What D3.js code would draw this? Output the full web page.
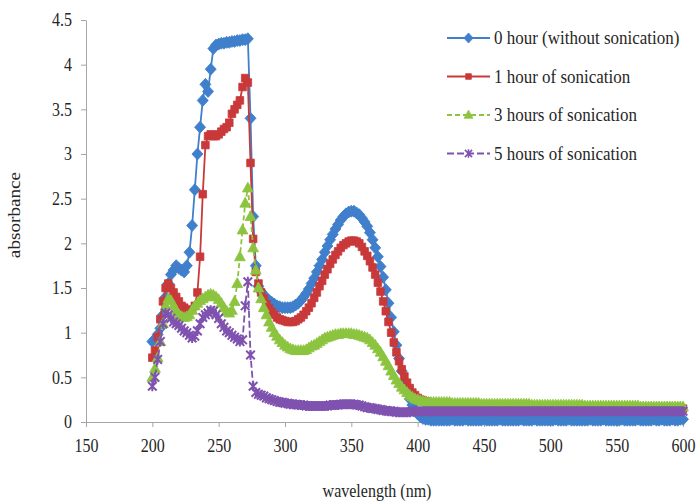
<!DOCTYPE html>
<html>
<head>
<meta charset="utf-8">
<script src="https://cdn.jsdelivr.net/npm/d3@7"></script>
<style>
  html, body { margin: 0; padding: 0; background: #fff; }
  text { font-family: "Liberation Serif", "Times New Roman", serif; fill: #262626; }
</style>
</head>
<body>
<svg id="chart" width="700" height="504"></svg>
<script>
// --- Data (2 nm steps) ---
const wavelengths = [
  200,202,204,206,208,210,212,214,216,218,
  220,222,224,226,228,230,232,234,236,238,
  240,242,244,246,248,250,252,254,256,258,
  260,262,264,266,268,270,272,274,276,278,
  280,282,284,286,288,290,292,294,296,298,
  300,302,304,306,308,310,312,314,316,318,
  320,322,324,326,328,330,332,334,336,338,
  340,342,344,346,348,350,352,354,356,358,
  360,362,364,366,368,370,372,374,376,378,
  380,382,384,386,388,390,392,394,396,398,
  400,402,404,406,408,410,412,414,416,418,
  420,422,424,426,428,430,432,434,436,438,
  440,442,444,446,448,450,452,454,456,458,
  460,462,464,466,468,470,472,474,476,478,
  480,482,484,486,488,490,492,494,496,498,
  500,502,504,506,508,510,512,514,516,518,
  520,522,524,526,528,530,532,534,536,538,
  540,542,544,546,548,550,552,554,556,558,
  560,562,564,566,568,570,572,574,576,578,
  580,582,584,586,588,590,592,594,596,598,
  600
];

// 0 hour (without sonication)
const hour0 = [
  0.90,0.93,0.98,1.05,1.20,1.40,1.55,1.65,1.70,1.75,
  1.72,1.70,1.68,1.75,1.90,2.20,2.60,3.00,3.30,3.60,
  3.78,3.70,3.95,4.18,4.22,4.23,4.24,4.24,4.25,4.25,
  4.26,4.26,4.27,4.27,4.28,4.28,4.29,3.40,2.30,1.75,
  1.52,1.46,1.42,1.39,1.36,1.34,1.32,1.30,1.29,1.28,
  1.28,1.28,1.28,1.29,1.31,1.33,1.36,1.40,1.44,1.49,
  1.55,1.61,1.68,1.75,1.82,1.90,1.97,2.04,2.10,2.16,
  2.21,2.26,2.30,2.33,2.35,2.36,2.36,2.34,2.32,2.28,
  2.24,2.19,2.12,2.04,1.95,1.85,1.74,1.62,1.48,1.33,
  1.17,1.01,0.86,0.71,0.57,0.45,0.35,0.26,0.19,0.13,
  0.09,0.06,0.04,0.03,0.03,0.02,0.02,0.02,0.02,0.02,
  0.02,0.02,0.02,0.03,0.02,0.02,0.02,0.02,0.03,0.02,
  0.02,0.02,0.02,0.02,0.02,0.03,0.02,0.02,0.02,0.02,
  0.02,0.03,0.02,0.02,0.02,0.02,0.02,0.02,0.02,0.03,
  0.02,0.02,0.02,0.02,0.03,0.02,0.02,0.02,0.02,0.02,
  0.02,0.02,0.03,0.02,0.02,0.02,0.02,0.03,0.02,0.02,
  0.02,0.02,0.02,0.02,0.02,0.03,0.02,0.02,0.02,0.02,
  0.03,0.02,0.02,0.02,0.02,0.02,0.02,0.03,0.02,0.02,
  0.02,0.02,0.02,0.03,0.02,0.02,0.02,0.02,0.02,0.03,
  0.02,0.02,0.03,0.02,0.02,0.02,0.03,0.02,0.02,0.03,
  0.03
];

// 1 hour of sonication
const hour1 = [
  0.72,0.80,0.95,1.15,1.35,1.50,1.55,1.50,1.45,1.40,
  1.35,1.30,1.28,1.25,1.25,1.26,1.30,1.45,1.85,2.55,
  3.10,3.20,3.22,3.20,3.20,3.22,3.25,3.28,3.30,3.35,
  3.45,3.50,3.55,3.60,3.75,3.85,3.80,2.90,2.05,1.68,
  1.55,1.45,1.38,1.32,1.27,1.23,1.20,1.17,1.15,1.14,
  1.13,1.12,1.12,1.12,1.13,1.15,1.17,1.20,1.24,1.28,
  1.33,1.39,1.45,1.52,1.58,1.65,1.71,1.77,1.82,1.87,
  1.91,1.95,1.98,2.00,2.02,2.03,2.03,2.02,2.00,1.96,
  1.91,1.86,1.80,1.73,1.65,1.56,1.46,1.35,1.24,1.12,
  1.00,0.89,0.78,0.68,0.59,0.51,0.44,0.38,0.33,0.30,
  0.27,0.25,0.24,0.23,0.22,0.21,0.21,0.20,0.20,0.20,
  0.20,0.20,0.20,0.20,0.19,0.19,0.19,0.19,0.19,0.19,
  0.19,0.19,0.18,0.18,0.18,0.18,0.18,0.18,0.18,0.18,
  0.18,0.18,0.18,0.17,0.17,0.17,0.17,0.17,0.17,0.17,
  0.17,0.17,0.17,0.17,0.17,0.17,0.17,0.16,0.16,0.16,
  0.16,0.16,0.16,0.16,0.16,0.16,0.16,0.16,0.16,0.16,
  0.16,0.16,0.16,0.16,0.16,0.16,0.16,0.16,0.16,0.16,
  0.16,0.16,0.16,0.16,0.15,0.15,0.15,0.15,0.15,0.15,
  0.15,0.15,0.15,0.15,0.15,0.15,0.15,0.15,0.15,0.15,
  0.15,0.15,0.15,0.15,0.15,0.15,0.15,0.15,0.15,0.15,
  0.15
];

// 3 hours of sonication
const hour3 = [
  0.50,0.60,0.72,0.90,1.10,1.30,1.38,1.36,1.30,1.25,
  1.20,1.18,1.17,1.18,1.20,1.25,1.30,1.33,1.36,1.38,
  1.40,1.42,1.43,1.42,1.40,1.37,1.33,1.28,1.24,1.22,
  1.25,1.35,1.55,1.85,2.15,2.45,2.62,2.30,1.95,1.70,
  1.50,1.38,1.28,1.20,1.12,1.06,1.00,0.96,0.92,0.89,
  0.86,0.84,0.82,0.81,0.80,0.80,0.80,0.80,0.81,0.83,
  0.85,0.86,0.88,0.90,0.92,0.94,0.95,0.96,0.97,0.98,
  0.98,0.99,0.99,0.99,0.99,0.99,0.98,0.98,0.97,0.96,
  0.95,0.94,0.92,0.89,0.86,0.82,0.78,0.73,0.68,0.63,
  0.57,0.52,0.47,0.43,0.39,0.36,0.33,0.30,0.28,0.26,
  0.25,0.24,0.23,0.23,0.22,0.22,0.22,0.22,0.22,0.22,
  0.22,0.22,0.22,0.21,0.21,0.21,0.21,0.21,0.21,0.21,
  0.21,0.21,0.21,0.21,0.20,0.20,0.20,0.20,0.20,0.20,
  0.20,0.20,0.20,0.20,0.20,0.20,0.20,0.20,0.20,0.20,
  0.20,0.20,0.20,0.19,0.19,0.19,0.19,0.19,0.19,0.19,
  0.19,0.19,0.19,0.19,0.19,0.19,0.19,0.19,0.19,0.19,
  0.19,0.19,0.19,0.18,0.18,0.18,0.18,0.18,0.18,0.18,
  0.18,0.18,0.18,0.18,0.18,0.18,0.18,0.18,0.18,0.18,
  0.18,0.18,0.18,0.18,0.17,0.17,0.17,0.17,0.17,0.17,
  0.17,0.17,0.17,0.17,0.17,0.17,0.17,0.17,0.17,0.17,
  0.17
];

// 5 hours of sonication
const hour5 = [
  0.40,0.50,0.70,0.90,1.10,1.22,1.20,1.16,1.12,1.10,
  1.08,1.05,1.02,1.00,0.97,0.94,0.96,1.02,1.10,1.17,
  1.20,1.22,1.25,1.24,1.20,1.16,1.10,1.06,1.02,1.00,
  0.97,0.95,0.93,0.90,0.92,1.30,1.57,0.75,0.40,0.33,
  0.31,0.30,0.29,0.27,0.26,0.25,0.24,0.23,0.22,0.22,
  0.21,0.21,0.20,0.20,0.20,0.19,0.19,0.19,0.18,0.18,
  0.18,0.18,0.18,0.18,0.18,0.18,0.18,0.19,0.19,0.19,
  0.19,0.20,0.20,0.20,0.20,0.20,0.20,0.19,0.19,0.18,
  0.17,0.16,0.16,0.15,0.15,0.14,0.14,0.13,0.13,0.12,
  0.12,0.12,0.11,0.11,0.11,0.11,0.11,0.11,0.12,0.12,
  0.12,0.12,0.12,0.12,0.12,0.12,0.12,0.12,0.12,0.12,
  0.12,0.12,0.12,0.12,0.12,0.12,0.12,0.12,0.12,0.12,
  0.12,0.12,0.12,0.12,0.12,0.12,0.12,0.12,0.12,0.12,
  0.12,0.12,0.12,0.12,0.12,0.12,0.12,0.12,0.12,0.12,
  0.12,0.12,0.12,0.12,0.12,0.12,0.12,0.12,0.12,0.12,
  0.12,0.12,0.12,0.12,0.12,0.12,0.12,0.12,0.12,0.12,
  0.12,0.12,0.12,0.12,0.12,0.12,0.12,0.12,0.12,0.12,
  0.12,0.12,0.12,0.12,0.12,0.12,0.12,0.12,0.12,0.12,
  0.12,0.12,0.12,0.12,0.12,0.12,0.12,0.12,0.12,0.12,
  0.12,0.12,0.12,0.12,0.12,0.12,0.12,0.12,0.12,0.12,
  0.12
];

const seriesNames = ["0 hour (without sonication)", "1 hour of sonication", "3 hours of sonication", "5 hours of sonication"];
const seriesValues = [hour0, hour1, hour3, hour5];
const xTicks = [150, 200, 250, 300, 350, 400, 450, 500, 550, 600];
const yTicks = [0, 0.5, 1, 1.5, 2, 2.5, 3, 3.5, 4, 4.5];

// --- Styles per series ---
const colors = ["#3f7fcc", "#c9393a", "#8cc43f", "#7f52b0"];
const dashes = [null, null, "5,3", "7,3"];
// plot markers are a bit bigger than legend ones: the dense data makes thick bands
const markers = [
  "M0,-6L5.5,0L0,6L-5.5,0Z",                            // diamond
  "M-3.8,-3.8H3.8V3.8H-3.8Z",                           // square
  "M0,-5.8L5.4,4H-5.4Z",                                // triangle
  "M-4.3,-4.3L4.3,4.3M-4.3,4.3L4.3,-4.3M0,-5V5"         // star
];
const legendMarkers = [
  "M0,-5L4.6,0L0,5L-4.6,0Z",
  "M-2.8,-2.8H2.8V2.8H-2.8Z",
  "M0,-4.8L4.4,3.2H-4.4Z",
  "M-3.6,-3.6L3.6,3.6M-3.6,3.6L3.6,-3.6M0,-4.2V4.2"
];

// --- Layout ---
const plot = { left: 86, right: 683, top: 20, bottom: 422 };
const textStretch = "scale(1,1.15)";

const svg = d3.select("#chart");

const x = d3.scaleLinear().domain([150, 600]).range([plot.left, plot.right]);
const y = d3.scaleLinear().domain([0, 4.5]).range([plot.bottom, plot.top]);

// --- Axes ---
const xAxis = svg.append("g")
  .attr("transform", `translate(0,${plot.bottom})`)
  .call(d3.axisBottom(x).tickValues(xTicks).tickFormat(d => String(d)).tickSize(5).tickSizeOuter(0).tickPadding(10));
const yAxis = svg.append("g")
  .attr("transform", `translate(${plot.left},0)`)
  .call(d3.axisLeft(y).tickValues(yTicks).tickFormat(d => String(d)).tickSize(5).tickSizeOuter(0).tickPadding(9));

[xAxis, yAxis].forEach(g => {
  g.selectAll("path.domain, line").attr("stroke", "#a6a6a6").attr("stroke-width", 1);
  g.selectAll("text")
    .style("font-family", '"Liberation Serif", "Times New Roman", serif')
    .style("font-size", "16px")
    .attr("fill", "#262626")
    .attr("transform", textStretch);
});

// --- Series: line then markers, in Excel order ---
seriesValues.forEach((vals, i) => {
  const pts = wavelengths.map((w, j) => ({ w: w, v: vals[j] })).filter(d => d.v != null);
  const line = d3.line().x(d => x(d.w)).y(d => y(d.v));

  svg.append("path")
    .datum(pts)
    .attr("d", line)
    .attr("fill", "none")
    .attr("stroke", colors[i])
    .attr("stroke-width", 1.8)
    .attr("stroke-dasharray", dashes[i]);

  const isStar = i === 3;
  svg.append("g").selectAll("path")
    .data(pts)
    .enter()
    .append("path")
    .attr("d", markers[i])
    .attr("transform", d => `translate(${x(d.w)},${y(d.v)})`)
    .attr("fill", isStar ? "none" : colors[i])
    .attr("stroke", colors[i])
    .attr("stroke-width", isStar ? 2 : 0.8);
});

// --- Axis titles ---
svg.append("text")
  .attr("transform", `translate(377,497) ${textStretch}`)
  .attr("text-anchor", "middle")
  .style("font-size", "16px")
  .text("wavelength (nm)");

svg.append("text")
  .attr("transform", `translate(20,215) scale(1,1.2) rotate(-90)`)
  .attr("text-anchor", "middle")
  .style("font-size", "16px")
  .text("absorbance");

// --- Legend ---
const legend = svg.append("g");
seriesNames.forEach((name, i) => {
  const ly = 38 + i * 38.5;
  legend.append("line")
    .attr("x1", 447).attr("x2", 490)
    .attr("y1", ly).attr("y2", ly)
    .attr("stroke", colors[i])
    .attr("stroke-width", 2)
    .attr("stroke-dasharray", dashes[i]);
  legend.append("path")
    .attr("d", legendMarkers[i])
    .attr("transform", `translate(468.5,${ly})`)
    .attr("fill", i === 3 ? "none" : colors[i])
    .attr("stroke", colors[i])
    .attr("stroke-width", i === 3 ? 1.6 : 0.8);
  legend.append("text")
    .attr("transform", `translate(494,${ly + 6}) ${textStretch}`)
    .style("font-size", "17px")
    .text(name);
});
</script>
</body>
</html>
